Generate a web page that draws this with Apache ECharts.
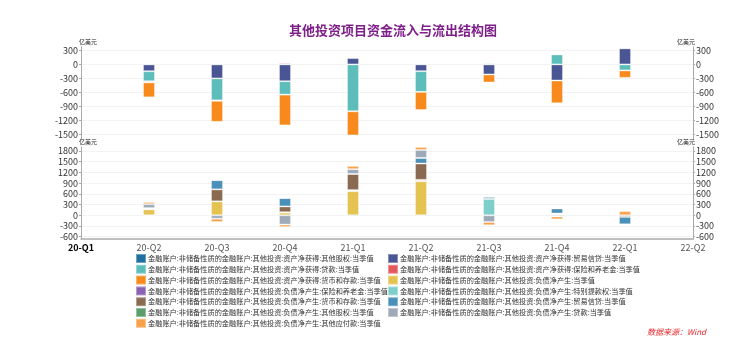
<!DOCTYPE html>
<html>
<head>
<meta charset="utf-8">
<script src="https://cdn.jsdelivr.net/npm/echarts@6/dist/echarts.min.js"></script>
<style>
  html, body { margin: 0; padding: 0; background: #fff; }
  #chart { width: 731px; height: 345px; }
</style>
</head>
<body>
<div id="chart"></div>
<script>
// Quarter labels on the shared time axis
const quarters = ['20-Q1', '20-Q2', '20-Q3', '20-Q4', '21-Q1', '21-Q2', '21-Q3', '21-Q4', '22-Q1', '22-Q2'];

// Tick labels of the two value axes (亿美元)
const ticksAsset = [-1500, -1200, -900, -600, -300, 0, 300];
const ticksLiab = [-600, -300, 0, 300, 600, 900, 1200, 1500, 1800];

// 资产净获得 (upper panel), 20-Q1 … 22-Q2
const assetEquity   = [null, 0, 0, 0, 0, 0, 0, 0, 0, null];
const assetTrade    = [null, -145, -300, -360, 136, -144, -215, -344, 344, null];
const assetLoan     = [null, -215, -470, -287, -1005, -445, 28, 215, -129, null];
const assetInsur    = [null, -25, -10, 28, 0, 0, 0, 0, 0, null];
const assetCurrency = [null, -320, -450, -660, -517, -388, -172, -488, -158, null];

// 负债净产生 (lower panel), 20-Q1 … 22-Q2
const liabTotal    = [null, 165, 390, 75, 675, 954, 0, 30, 0, null];
const liabInsur    = [null, 10, 0, 10, 28, 36, 0, 0, 0, null];
const liabSDR      = [null, -20, 0, 0, -35, 0, 460, 0, 0, null];
const liabCurrency = [null, 25, 335, 162, 455, 458, 0, 20, -45, null];
const liabTrade    = [null, 0, 257, 234, 0, 156, 56, 140, -210, null];
const liabEquity   = [null, 0, 0, 0, 0, 0, 0, 0, 0, null];
const liabLoan     = [null, 110, -98, -260, 131, 223, -190, -35, 0, null];
const liabPayable  = [null, 60, -92, -70, 92, 84, -90, -80, 115, null];

const P = '金融账户:非储备性质的金融账户:其他投资:';
const assetSeries = [
  { name: P + '资产净获得:其他股权:当季值', data: assetEquity, color: '#1f6f9f' },
  { name: P + '资产净获得:贸易信贷:当季值', data: assetTrade, color: '#4a5594' },
  { name: P + '资产净获得:贷款:当季值', data: assetLoan, color: '#5dbdba' },
  { name: P + '资产净获得:保险和养老金:当季值', data: assetInsur, color: '#e5585b' },
  { name: P + '资产净获得:货币和存款:当季值', data: assetCurrency, color: '#f88a1d' }
];
const liabSeries = [
  { name: P + '负债净产生:当季值', data: liabTotal, color: '#e5c350' },
  { name: P + '负债净产生:保险和养老金:当季值', data: liabInsur, color: '#8a63b3' },
  { name: P + '负债净产生:特别提款权:当季值', data: liabSDR, color: '#7ecfcc' },
  { name: P + '负债净产生:货币和存款:当季值', data: liabCurrency, color: '#8b6a52' },
  { name: P + '负债净产生:贸易信贷:当季值', data: liabTrade, color: '#4a90b8' },
  { name: P + '负债净产生:其他股权:当季值', data: liabEquity, color: '#5a9e6e' },
  { name: P + '负债净产生:贷款:当季值', data: liabLoan, color: '#9eaab8' },
  { name: P + '负债净产生:其他应付款:当季值', data: liabPayable, color: '#f9a04a' }
];

const FONT = '"Noto Sans CJK SC", sans-serif';
const all = assetSeries.concat(liabSeries);
// legend is laid out in two columns, filled row by row
const colLeft = all.filter((s, i) => i % 2 === 0).map(s => s.name);
const colRight = all.filter((s, i) => i % 2 === 1).map(s => s.name);

function yAxis(grid, pos, min, max, ticks) {
  return {
    type: 'value', gridIndex: grid, position: pos, min: min, max: max,
    name: '亿美元', nameLocation: 'end', nameGap: 2,
    nameTextStyle: { fontSize: 6, color: '#222', fontFamily: FONT, align: pos === 'left' ? 'left' : 'right', padding: pos === 'left' ? [0, 0, 0, -2] : [0, -2, 0, 0] },
    axisLine: { show: true, lineStyle: { color: '#aaa', width: 1 } },
    axisTick: { show: true, length: 2, customValues: ticks, lineStyle: { color: '#aaa' } },
    axisLabel: { fontSize: 9, color: '#333', margin: 3, fontFamily: FONT, customValues: ticks, formatter: v => String(v) },
    splitLine: { show: pos === 'left', lineStyle: { color: '#f3f3f3', width: 1 } }
  };
}

function legendCol(names, left) {
  return {
    data: names, orient: 'vertical', left: left, top: 253, width: 300, height: 90, padding: 0,
    itemWidth: 10, itemHeight: 9, itemGap: -0.2, icon: 'rect',
    textStyle: { fontSize: 7.2, lineHeight: 9, height: 9, color: '#333', fontFamily: FONT, padding: [0, 0, 0, -3] }
  };
}

const chart = echarts.init(document.getElementById('chart'), null, { renderer: 'canvas' });
chart.setOption({
  animation: false,
  backgroundColor: '#fff',
  title: {
    text: '其他投资项目资金流入与流出结构图',
    left: 388, top: 19, textAlign: 'center',
    textStyle: { fontSize: 13, fontWeight: 'bold', color: '#7e1f8a', fontFamily: FONT }
  },
  legend: [legendCol(colLeft, 135), legendCol(colRight, 387)],
  grid: [
    { left: 81, right: 38, top: 46.7, height: 93.3 },
    { left: 81, right: 38, top: 147, height: 92 }
  ],
  xAxis: [
    { type: 'category', gridIndex: 0, data: quarters, boundaryGap: false, show: false },
    { type: 'category', gridIndex: 1, data: quarters, boundaryGap: false,
      axisLine: { onZero: false, lineStyle: { color: '#aaa', width: 1.5 } },
      axisTick: { show: false },
      axisLabel: {
        interval: 0, fontSize: 9, color: '#555', margin: 4, fontFamily: FONT,
        formatter: (v, i) => i === 0 ? '{b|' + v + '}' : v,
        rich: { b: { fontWeight: 'bold', color: '#000', fontSize: 9, fontFamily: FONT } }
      }
    }
  ],
  yAxis: [
    yAxis(0, 'left', -1620, 380, ticksAsset),
    yAxis(0, 'right', -1620, 380, ticksAsset),
    yAxis(1, 'left', -664, 1910, ticksLiab),
    yAxis(1, 'right', -664, 1910, ticksLiab)
  ],
  series: assetSeries.map(s => ({
    name: s.name, type: 'bar', stack: 'asset', xAxisIndex: 0, yAxisIndex: 0, barWidth: 12,
    data: s.data, itemStyle: { color: s.color, borderColor: 'rgba(255,255,255,0.35)', borderWidth: 1 }
  })).concat(liabSeries.map(s => ({
    name: s.name, type: 'bar', stack: 'liab', xAxisIndex: 1, yAxisIndex: 2, barWidth: 12,
    data: s.data, itemStyle: { color: s.color, borderColor: 'rgba(255,255,255,0.35)', borderWidth: 1 }
  }))),
  graphic: [
    { type: 'text', right: 25, top: 328,
      style: { text: '数据来源：Wind', fontSize: 8, fontStyle: 'italic', fill: '#e8262a', fontFamily: FONT } }
  ]
});
</script>
</body>
</html>
